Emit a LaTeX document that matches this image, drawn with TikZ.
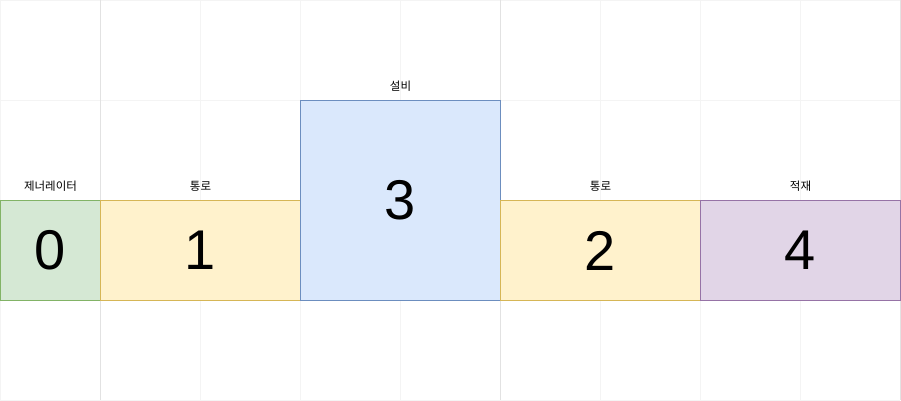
\documentclass[tikz,border=0pt]{standalone}
\usepackage{fontspec}
\setmainfont{Liberation Sans}
\newfontfamily\kr{Noto Sans CJK KR}
\usetikzlibrary{positioning}
\definecolor{gridmin}{HTML}{F4F4F4}
\definecolor{gridmaj}{HTML}{E2E2E2}
\definecolor{genfill}{HTML}{D5E8D4}
\definecolor{gendraw}{HTML}{82B366}
\definecolor{pathfill}{HTML}{FFF2CC}
\definecolor{pathdraw}{HTML}{D6B656}
\definecolor{eqfill}{HTML}{DAE8FC}
\definecolor{eqdraw}{HTML}{6C8EBF}
\definecolor{stackfill}{HTML}{E1D5E7}
\definecolor{stackdraw}{HTML}{9673A6}
\tikzset{
  cell/.style={draw,outer sep=0pt,inner sep=0pt,line width=1pt,
    minimum height=100pt,font=\fontsize{56}{56}\selectfont},
  tag/.style={inner sep=0pt,font=\kr\fontsize{11.5}{13}\selectfont}
}
\begin{document}
\begin{tikzpicture}[x=1pt,y=-1pt]
\useasboundingbox (0,0) rectangle (901,401);
\pgfmathsetmacro{\xmax}{900}
\pgfmathsetmacro{\ymax}{400}
% grid
\foreach \x in {0,200,300,400,600,700,800} {
\draw[gridmin,line width=1pt] (\x+0.5,0) -- (\x+0.5,\ymax);
}
\foreach \y in {0,100,200,300,400} {
\draw[gridmin,line width=1pt] (0,\y+0.5) -- (\xmax,\y+0.5);
}
\foreach \x in {100,500,900} {
\draw[gridmaj,line width=1pt] (\x+0.5,0) -- (\x+0.5,\ymax);
}
% blocks
\node[cell,fill=genfill,draw=gendraw,minimum width=100pt] (gen) at (50.5,250.5) {0};
\node[cell,fill=pathfill,draw=pathdraw,minimum width=200pt,right=0pt of gen] (pathA) {1};
\node[cell,fill=eqfill,draw=eqdraw,minimum width=200pt,minimum height=200pt,anchor=south west] (equip) at (pathA.south east) {3};
\node[cell,fill=pathfill,draw=pathdraw,minimum width=200pt,anchor=south west] (pathB) at (equip.south east) {2};
\node[cell,fill=stackfill,draw=stackdraw,minimum width=200pt,right=0pt of pathB] (stack) {4};
% labels
\node[tag,above=9pt of gen] (tgen) {제너레이터};
\node[tag,above=9pt of pathA] (tpathA) {통로};
\node[tag,above=9pt of equip] (tequip) {설비};
\node[tag,above=9pt of pathB] (tpathB) {통로};
\node[tag,above=9pt of stack] (tstack) {적재};
\end{tikzpicture}
\end{document}
